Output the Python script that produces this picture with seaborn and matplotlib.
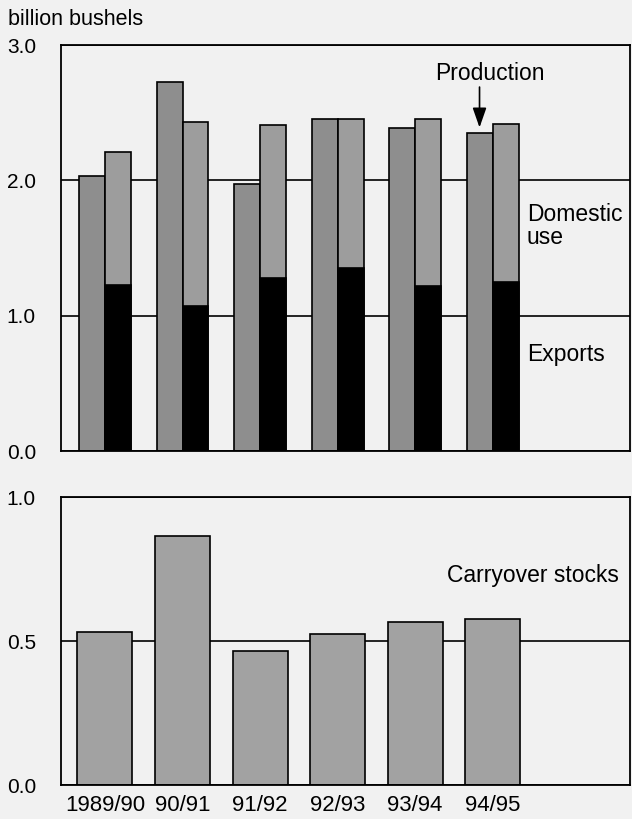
import pandas as pd
import seaborn as sns
import matplotlib.pyplot as plt

seasons = ["1989/90", "90/91", "91/92", "92/93", "93/94", "94/95"]
production = [2.03, 2.73, 1.97, 2.45, 2.39, 2.35]
total_use = [2.21, 2.43, 2.41, 2.45, 2.45, 2.42]
exports = [1.23, 1.07, 1.28, 1.35, 1.22, 1.25]
carryover = [0.53, 0.865, 0.465, 0.525, 0.565, 0.575]

sns.set_theme(style="white")
plt.rcParams["font.family"] = ["Liberation Sans", "DejaVu Sans"]
plt.rcParams["text.color"] = "black"

bg = "#f1f1f1"
top = pd.DataFrame({
    "season": seasons * 2,
    "value": production + total_use,
    "series": ["Production"] * 6 + ["Use"] * 6,
})
# empty production slot keeps exports dodged onto the right-hand bar
exp = pd.DataFrame({
    "season": seasons * 2,
    "value": [0] * 6 + exports,
    "series": ["Production"] * 6 + ["Use"] * 6,
})
stocks = pd.DataFrame({"season": seasons, "value": carryover})

fig = plt.figure(figsize=(6.32, 8.19), dpi=100, facecolor=bg)
ax1 = fig.add_axes([0.0965, 0.4493, 0.9003, 0.4957], facecolor=bg)
ax2 = fig.add_axes([0.0965, 0.0415, 0.9003, 0.3516], facecolor=bg)

for ax in (ax1, ax2):
    ax.yaxis.grid(True, color="black", linewidth=1.2)
    ax.set_axisbelow(True)

sns.barplot(data=top, x="season", y="value", hue="series",
            hue_order=["Production", "Use"], order=seasons,
            palette=["#8e8e8e", "#9d9d9d"], width=0.67, saturation=1,
            edgecolor="black", linewidth=1.2, legend=False, errorbar=None, ax=ax1)
sns.barplot(data=exp, x="season", y="value", hue="series",
            hue_order=["Production", "Use"], order=seasons,
            palette=["#8e8e8e", "black"], width=0.67, saturation=1,
            edgecolor="black", linewidth=1.2, legend=False, errorbar=None, ax=ax1)

sns.barplot(data=stocks, x="season", y="value", order=seasons, color="#a2a2a2",
            width=0.71, saturation=1, edgecolor="black", linewidth=1.2,
            errorbar=None, ax=ax2)

ax1.set_ylim(0, 3)
ax1.set_yticks([0, 1, 2, 3])
ax1.set_yticklabels(["0.0", "1.0", "2.0", "3.0"])
ax1.set_xticks([])
ax2.set_ylim(0, 1)
ax2.set_yticks([0, 0.5, 1])
ax2.set_yticklabels(["0.0", "0.5", "1.0"])

for ax in (ax1, ax2):
    ax.set_xlim(-0.567, 6.77)
    ax.set_xlabel("")
    ax.set_ylabel("")
    for s in ax.spines.values():
        s.set_color("black")
        s.set_linewidth(1.3)
    ax.tick_params(axis="y", length=0, pad=18, labelsize=15, labelcolor="black")
    ax.tick_params(axis="x", length=0, pad=7, labelsize=16, labelcolor="black")

ax1.text(4.96, 2.79, "Production", ha="center", va="center", fontsize=16.5)
ax1.annotate("", xy=(4.83, 2.37), xytext=(4.83, 2.71),
             arrowprops=dict(arrowstyle="-|>,head_width=0.35,head_length=1.0",
                             color="black", lw=1.2))
ax1.text(5.44, 1.66, "Domestic\nuse", ha="left", va="center", fontsize=16.5,
         linespacing=1.0)
ax1.text(5.44, 0.71, "Exports", ha="left", va="center", fontsize=16.5)
ax2.text(4.41, 0.726, "Carryover stocks", ha="left", va="center", fontsize=16.5)

fig.text(0.013, 0.976, "billion bushels", ha="left", va="center", fontsize=15.5)

fig.savefig("out.png", dpi=100, facecolor=bg)
